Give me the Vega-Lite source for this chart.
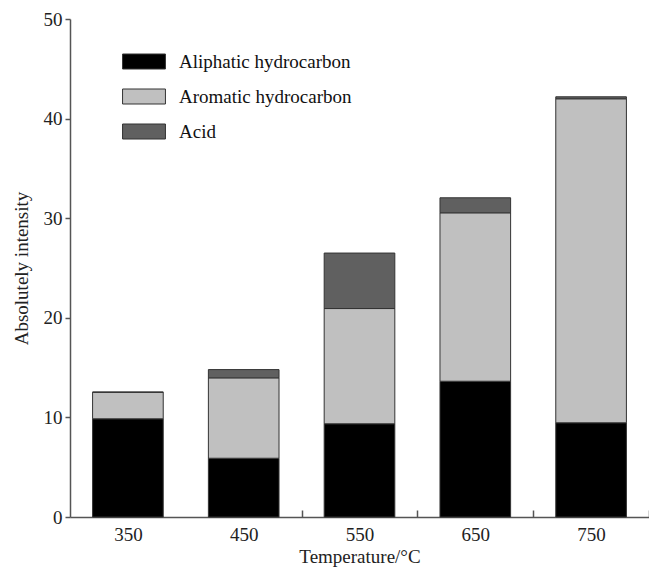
{
  "$schema": "https://vega.github.io/schema/vega-lite/v6.json",
  "autosize": "none",
  "padding": {"left": 70, "top": 19, "right": 0, "bottom": 50},
  "width": 579,
  "height": 498,
  "background": "white",
  "config": {"view": {"stroke": null}, "font": "Liberation Serif"},
  "data": {"values": [
    {"temp": "350", "type": "Aliphatic hydrocarbon", "ord": 1, "value": 9.86},
    {"temp": "350", "type": "Aromatic hydrocarbon", "ord": 2, "value": 2.67},
    {"temp": "350", "type": "Acid", "ord": 3, "value": 0},
    {"temp": "450", "type": "Aliphatic hydrocarbon", "ord": 1, "value": 5.9},
    {"temp": "450", "type": "Aromatic hydrocarbon", "ord": 2, "value": 8.07},
    {"temp": "450", "type": "Acid", "ord": 3, "value": 0.83},
    {"temp": "550", "type": "Aliphatic hydrocarbon", "ord": 1, "value": 9.36},
    {"temp": "550", "type": "Aromatic hydrocarbon", "ord": 2, "value": 11.57},
    {"temp": "550", "type": "Acid", "ord": 3, "value": 5.57},
    {"temp": "650", "type": "Aliphatic hydrocarbon", "ord": 1, "value": 13.63},
    {"temp": "650", "type": "Aromatic hydrocarbon", "ord": 2, "value": 16.91},
    {"temp": "650", "type": "Acid", "ord": 3, "value": 1.51},
    {"temp": "750", "type": "Aliphatic hydrocarbon", "ord": 1, "value": 9.46},
    {"temp": "750", "type": "Aromatic hydrocarbon", "ord": 2, "value": 32.53},
    {"temp": "750", "type": "Acid", "ord": 3, "value": 0.2}
  ]},
  "mark": {"type": "bar", "stroke": "#333333", "strokeWidth": 1},
  "encoding": {
    "x": {
      "field": "temp", "type": "nominal",
      "scale": {"paddingInner": 0.39, "paddingOuter": 0.195},
      "axis": {
        "title": "Temperature/°C", "titleFont": "Liberation Serif", "titleFontSize": 19, "titleFontWeight": "normal", "titleColor": "#222", "titlePadding": 3,
        "labelAngle": 0, "labelFont": "Liberation Serif", "labelFontSize": 19, "labelColor": "#222", "labelPadding": 15,
        "tickOffset": 58, "labelOffset": -58,
        "tickSize": -7, "tickColor": "#555", "tickWidth": 1.5,
        "tickOpacity": {"condition": {"test": "datum.value == '350'", "value": 0}, "value": 1},
        "domainColor": "#555", "domainWidth": 1.5
      }
    },
    "y": {
      "aggregate": "sum", "field": "value", "type": "quantitative", "stack": "zero",
      "scale": {"domain": [0, 50], "nice": false},
      "axis": {
        "title": "Absolutely intensity", "titleFont": "Liberation Serif", "titleFontSize": 19, "titleFontWeight": "normal", "titleColor": "#222", "titlePadding": 12,
        "values": [0, 10, 20, 30, 40, 50], "grid": false,
        "labelFont": "Liberation Serif", "labelFontSize": 19, "labelColor": "#222", "labelPadding": 3,
        "tickSize": 5, "tickColor": "#555", "tickWidth": 1.5,
        "domainColor": "#555", "domainWidth": 1.5
      }
    },
    "color": {
      "field": "type", "type": "nominal",
      "scale": {"domain": ["Aliphatic hydrocarbon", "Aromatic hydrocarbon", "Acid"], "range": ["#000000", "#c0c0c0", "#606060"]},
      "legend": {
        "title": null, "orient": "none", "legendX": 58.5, "legendY": 27, "padding": 0,
        "symbolType": "M-1.43,-0.5H1.43V0.5H-1.43Z", "symbolSize": 900,
        "symbolStrokeColor": "#333333", "symbolStrokeWidth": 1, "symbolOpacity": 1,
        "labelFont": "Liberation Serif", "labelFontSize": 19, "labelColor": "#111", "labelOffset": 19.5, "labelLimit": 0,
        "rowPadding": 9
      }
    },
    "order": {"field": "ord", "type": "quantitative"}
  }
}
